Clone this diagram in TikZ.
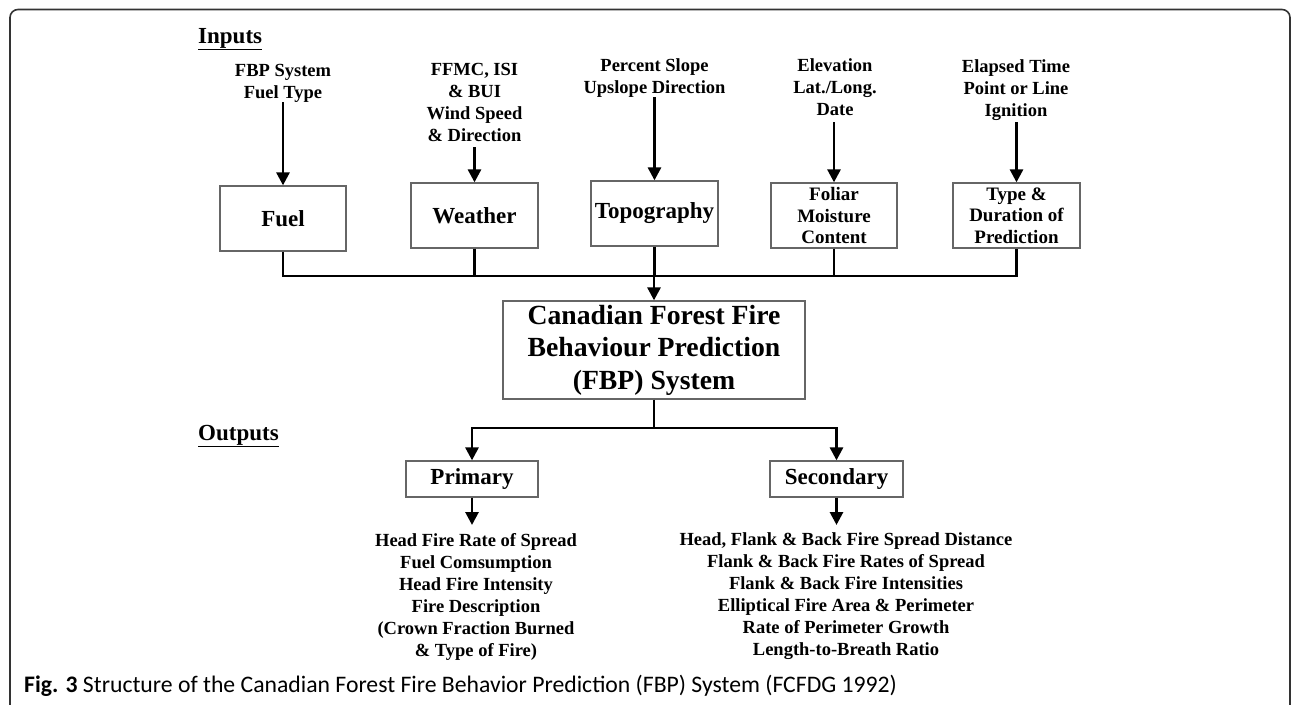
\documentclass[tikz,border=0pt]{standalone}
\usepackage{fontspec}
\setmainfont{Liberation Serif}
\newfontfamily\capfont{Carlito}
\usetikzlibrary{arrows.meta}
\begin{document}
\begin{tikzpicture}[x=1pt,y=-1pt,
  every node/.style={font=\bfseries},
  box/.style={draw=black!60, line width=1.3pt, inner sep=0pt, align=center},
  lbl/.style={align=center, inner sep=0pt, outer sep=0pt, text depth=0pt,
              font=\bfseries\fontsize{18.5}{21.7}\selectfont},
  olist/.style={align=center, inner sep=0pt, outer sep=0pt,
              font=\bfseries\fontsize{18.5}{22}\selectfont},
  head/.style={inner sep=0pt, font=\bfseries\fontsize{23}{26}\selectfont},
  link/.style={line width=2.8pt, line join=miter},
  arr/.style={line width=2.8pt, line join=miter, -{Triangle[length=13pt,width=13pt]}}
]
\useasboundingbox (0,0) rectangle (1292,704);
% frame
\begin{scope}
\clip (0,0) rectangle (1292,704);
\draw[black!80, line width=1.6pt, rounded corners=8pt] (10,720) -- (10,9.5) -- (1290,9.5) -- (1290,720);
\end{scope}

% headings
\node[head, anchor=base west] (inputs) at (198,43) {\underline{Inputs}};
\node[head, anchor=base west] (outputs) at (198,440) {\underline{Outputs}};

% input labels
\node[lbl, anchor=south] (lfuel) at (283,98) {FBP System\\Fuel Type};
\node[lbl, anchor=south] (lweather) at (474.5,141) {FFMC, ISI\\\& BUI\\Wind Speed\\ \& Direction};
\node[lbl, anchor=south] (ltopo) at (654.5,93) {Percent Slope\\Upslope Direction};
\node[lbl, anchor=south] (lfol) at (835,115) {Elevation\\Lat./Long.\\Date};
\node[lbl, anchor=south] (ltype) at (1016,116) {Elapsed Time\\Point or Line\\Ignition};

% input boxes
\node[box, minimum width=126pt, minimum height=65pt, font=\bfseries\fontsize{23}{26}\selectfont] (fuel) at (283,218.5) {Fuel};
\node[box, minimum width=127pt, minimum height=65pt, font=\bfseries\fontsize{23}{26}\selectfont] (weather) at (474.5,215.5) {Weather};
\node[box, minimum width=127pt, minimum height=65pt, font=\bfseries\fontsize{23}{26}\selectfont] (topo) at (654.5,213.5) {Topography};
\node[box, minimum width=126pt, minimum height=65pt, font=\bfseries\fontsize{19}{21.5}\selectfont] (fol) at (834,215.5) {Foliar\\Moisture\\Content};
\node[box, minimum width=127pt, minimum height=65pt, font=\bfseries\fontsize{19}{21.5}\selectfont] (type) at (1016.5,215.5) {Type \&\\Duration of\\Prediction};

% main box
\node[box, minimum width=302pt, minimum height=98pt, font=\bfseries\fontsize{27.7}{32.5}\selectfont] (main) at (654,350) {Canadian Forest Fire\\Behaviour Prediction\\(FBP) System};

% output boxes
\node[box, minimum width=132pt, minimum height=36pt, font=\bfseries\fontsize{23}{26}\selectfont] (prim) at (472,479) {Primary};
\node[box, minimum width=133pt, minimum height=36pt, font=\bfseries\fontsize{23}{26}\selectfont] (sec) at (836.5,479) {Secondary};

% output lists
\node[olist, anchor=north] (lprim) at (476,533) {Head Fire Rate of Spread\\Fuel Comsumption\\Head Fire Intensity\\Fire Description\\(Crown Fraction Burned\\\& Type of Fire)};
\node[olist, anchor=north] (lsec) at (846,533) {Head, Flank \& Back Fire Spread Distance\\Flank \& Back Fire Rates of Spread\\Flank \& Back Fire Intensities\\Elliptical Fire Area \& Perimeter\\Rate of Perimeter Growth\\Length-to-Breath Ratio};

% input arrows
\draw[arr] ([yshift=-4pt]lfuel.south -| fuel.north) -- (fuel.north);
\draw[arr] ([yshift=-6pt]lweather.south -| weather.north) -- (weather.north);
\draw[arr] ([yshift=-4pt]ltopo.south -| topo.north) -- (topo.north);
\draw[arr] ([yshift=-7pt]lfol.south -| fol.north) -- (fol.north);
\draw[arr] ([yshift=-6pt]ltype.south -| type.north) -- (type.north);

% bus
\coordinate (busY) at (0,276);
\draw[link] (fuel.south) |- (busY -| type.south) -- (type.south);
\draw[link] (weather.south) -- (weather.south |- busY);
\draw[link] (topo.south) -- (topo.south |- busY);
\draw[link] (fol.south) -- (fol.south |- busY);
\draw[arr] (main.north |- busY) -- (main.north);

% outputs tree
\coordinate (outY) at (0,428);
\draw[link] (main.south) -- (main.south |- outY);
\draw[arr] (main.south |- outY) -| (prim.north);
\draw[arr] (main.south |- outY) -| (sec.north);
\draw[arr] (prim.south) -- ([yshift=8pt]lprim.north -| prim.south);
\draw[arr] (sec.south) -- ([yshift=8pt]lsec.north -| sec.south);

% caption
\node[anchor=base west, inner sep=0pt, font=\capfont\fontsize{23.7}{27}\selectfont] (cap) at (24,692) {\textbf{Fig. 3} Structure of the Canadian Forest Fire Behavior Prediction (FBP) System (FCFDG 1992)};
\end{tikzpicture}
\end{document}
